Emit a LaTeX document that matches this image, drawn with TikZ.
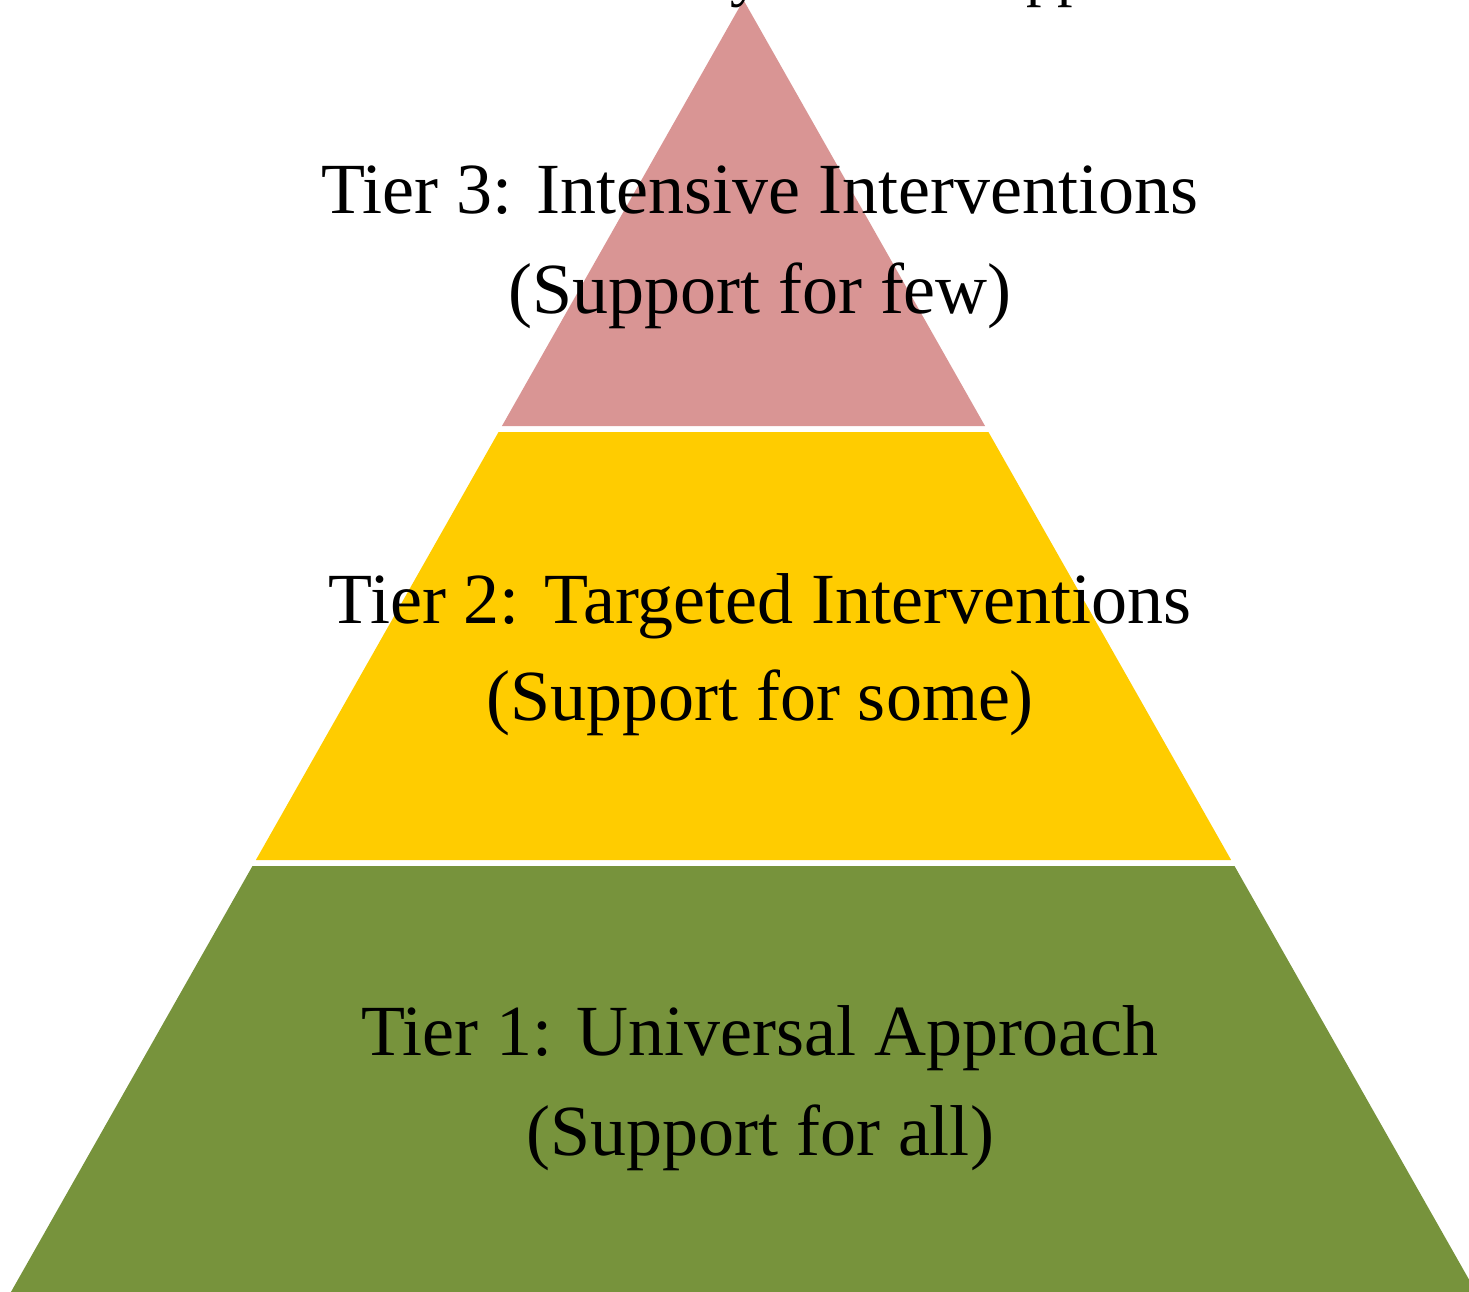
\documentclass[tikz,border=0pt]{standalone}
\usepackage{fontspec}
\setmainfont{Liberation Serif}
\definecolor{tierone}{HTML}{77933C}
\definecolor{tiertwo}{HTML}{FFCC00}
\definecolor{tierthree}{HTML}{D99594}
\begin{document}
\begin{tikzpicture}[x=0.5pt,y=-0.5pt,
  tierlabel/.style={font=\fontsize{36}{50}\selectfont, inner sep=0pt, anchor=base},
  titletext/.style={font=\fontsize{31}{36}\selectfont, inner sep=0pt, anchor=base west}]
\useasboundingbox (0,0) rectangle (1469,1292);
% pyramid sides: x = 743.5 -/+ 0.567*y, tiers separated by white gaps
\fill[tierthree] (743.5,0) -- ({743.5+0.567*426},426) -- ({743.5-0.567*426},426) -- cycle;
\fill[tiertwo] ({743.5-0.567*432},432) -- ({743.5+0.567*432},432)
  -- ({743.5+0.567*860},860) -- ({743.5-0.567*860},860) -- cycle;
\fill[tierone] ({743.5-0.567*866},866) -- ({743.5+0.567*866},866)
  -- ({743.5+0.567*1300},1300) -- ({743.5-0.567*1300},1300) -- cycle;
% title, sitting above the top edge
\node[titletext] (title) at (362,-6) {Multi-Tiered System of Support};
% tier labels
\node[tierlabel] (t3a) at (760,213) {Tier 3: Intensive Interventions};
\node[tierlabel] (t3b) at (760,313) {(Support for few)};
\node[tierlabel] (t2a) at (760,623) {Tier 2: Targeted Interventions};
\node[tierlabel] (t2b) at (760,720) {(Support for some)};
\node[tierlabel] (t1a) at (760,1055) {Tier 1: Universal Approach};
\node[tierlabel] (t1b) at (760,1155) {(Support for all)};
\end{tikzpicture}
\end{document}
